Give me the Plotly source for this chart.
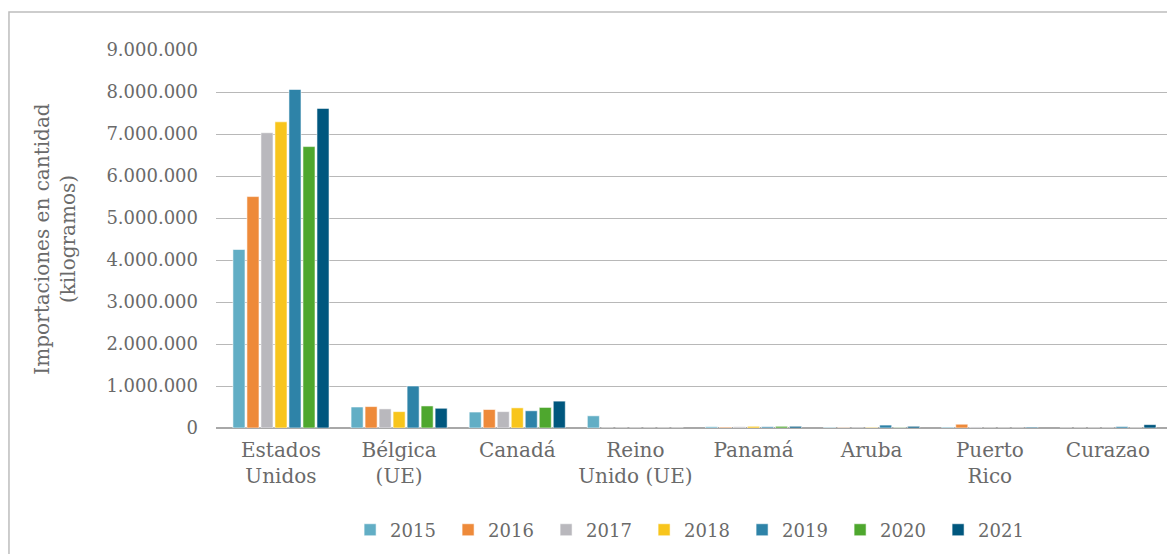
import plotly.graph_objects as go

categories = ["Estados<br>Unidos", "Bélgica<br>(UE)", "Canadá", "Reino<br>Unido (UE)",
              "Panamá", "Aruba", "Puerto<br>Rico", "Curazao"]
years = ["2015", "2016", "2017", "2018", "2019", "2020", "2021"]
colors = ["#62aec5", "#ee8a3a", "#b9b8bd", "#f8c51c", "#2e83a8", "#4ea72e", "#00577e"]

v2015 = [4250000, 500000, 380000, 290000, 30000, 15000, 20000, 0]
v2016 = [5510000, 510000, 440000, 0, 20000, 10000, 90000, 0]
v2017 = [7030000, 455000, 390000, 0, 30000, 0, 25000, 0]
v2018 = [7290000, 390000, 480000, 0, 40000, 15000, 0, 0]
v2019 = [8060000, 1000000, 410000, 0, 30000, 70000, 0, 35000]
v2020 = [6700000, 525000, 490000, 0, 40000, 10000, 0, 0]
v2021 = [7610000, 470000, 640000, 0, 40000, 40000, 20000, 80000]
series = [v2015, v2016, v2017, v2018, v2019, v2020, v2021]

tickvals = [0, 1000000, 2000000, 3000000, 4000000, 5000000, 6000000, 7000000, 8000000, 9000000]
ticktext = ["0", "1.000.000", "2.000.000", "3.000.000", "4.000.000", "5.000.000",
            "6.000.000", "7.000.000", "8.000.000", "9.000.000"]

FONT = "DejaVu Serif"
GREY = "#6a6a6a"

fig = go.Figure()
for y, c, vals in zip(years, colors, series):
    fig.add_trace(go.Bar(
        x=list(range(len(categories))), y=vals, name=y,
        marker=dict(color=c, line=dict(color="rgba(255,255,255,0.7)", width=0.8)),
    ))

fig.update_layout(
    width=1167, height=554,
    margin=dict(l=216, r=0, t=50, b=126, autoexpand=False),
    paper_bgcolor="white", plot_bgcolor="white",
    barmode="group", bargap=0.17, bargroupgap=0.14,
    font=dict(family=FONT, color=GREY, size=18),
    showlegend=True,
    legend=dict(orientation="h", x=0.141, xanchor="left", y=-0.27, yanchor="middle",
                entrywidth=53, entrywidthmode="pixels",
                font=dict(family=FONT, size=18, color=GREY), traceorder="normal"),
    xaxis=dict(
        tickmode="array", tickvals=list(range(len(categories))), ticktext=categories,
        range=[-0.55, 7.5], showgrid=False, showline=False, zeroline=False,
        tickfont=dict(family=FONT, size=20, color=GREY), ticks="", ticklabelstandoff=8,
    ),
    yaxis=dict(
        range=[0, 9000000], tickmode="array", tickvals=tickvals, ticktext=ticktext,
        showgrid=True, gridcolor="#b8b8b8", gridwidth=1,
        zeroline=True, zerolinecolor="#a8a8a8", zerolinewidth=1.5,
        showline=False, ticks="", ticklabelstandoff=17,
        tickfont=dict(family=FONT, size=18, color=GREY),
        title=dict(text="Importaciones en cantidad<br>(kilogramos)",
                   font=dict(family=FONT, size=20, color=GREY), standoff=25),
    ),
    shapes=[dict(type="rect", xref="paper", yref="paper",
                 x0=-0.2177, x1=1.2, y0=-0.6, y1=1.1005,
                 line=dict(color="#bdbdbd", width=1.5), fillcolor="rgba(0,0,0,0)",
                 layer="below")],
)

fig.write_html("out.html", config={"displayModeBar": False},
               post_script="document.body.style.margin='0';")
